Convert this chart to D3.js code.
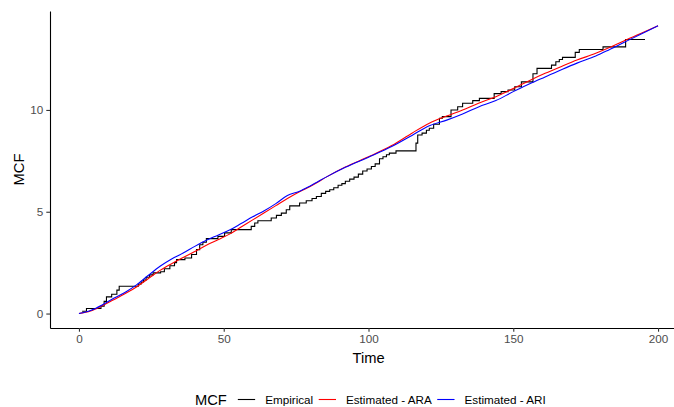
<!DOCTYPE html>
<html>
<head>
<meta charset="utf-8">
<script src="https://cdn.jsdelivr.net/npm/d3@7"></script>
<style>
  body { margin: 0; background: #fff; }
  svg { display: block; font-family: "Liberation Sans", Arial, sans-serif; }
</style>
</head>
<body>
<svg class="viz" width="674" height="407"></svg>
<script>
// Empirical MCF (step points: value holds from this time on)
var empTime = [1.1, 2.6, 7.6, 8.7, 9.5, 11.3, 13.1, 13.9, 20.5, 21.5, 22.3, 23.2, 24.4, 25.6,
  28.2, 29.5, 31.4, 33.0, 33.7, 36.6, 38.9, 40.6, 41.7, 42.8, 44.0, 48.0, 50.3, 52.6, 59.5,
  60.7, 61.8, 66.4, 68.2, 69.9, 71.6, 72.8, 76.2, 78.5, 80.5, 82.0, 83.7, 85.2, 86.6, 88.0,
  89.5, 90.8, 92.0, 93.5, 95.0, 96.5, 98.0, 99.5, 101.0, 102.3, 103.8, 105.0, 106.2, 107.2,
  109.5, 116.4, 117.0, 118.5, 120.0, 121.0, 122.5, 124.5, 125.5, 128.5, 130.8, 132.5, 136.0,
  138.3, 143.4, 145.8, 148.2, 150.5, 152.8, 156.8, 158.2, 163.2, 164.7, 165.9, 167.0, 171.4,
  172.8, 181.0, 188.8, 195.5];
var empMCF = [0.11, 0.25, 0.36, 0.6, 0.82, 0.95, 1.15, 1.34, 1.45, 1.55, 1.65, 1.78, 1.9, 2.0,
  2.05, 2.2, 2.35, 2.5, 2.65, 2.73, 2.9, 3.14, 3.38, 3.5, 3.68, 3.79, 3.96, 4.12, 4.28,
  4.45, 4.56, 4.69, 4.82, 4.93, 5.1, 5.29, 5.43, 5.54, 5.65, 5.75, 5.9, 6.0, 6.08, 6.18,
  6.3, 6.38, 6.5, 6.6, 6.7, 6.85, 7.0, 7.1, 7.22, 7.35, 7.6, 7.7, 7.8, 7.88,
  7.99, 8.37, 8.77, 8.86, 9.0, 9.1, 9.3, 9.59, 9.67, 10.0, 10.16, 10.33, 10.46,
  10.57, 10.8, 10.9, 10.98, 11.14, 11.38, 11.78, 12.04, 12.2, 12.37, 12.48, 12.58, 12.83,
  12.97, 13.1, 13.46, 13.46];

// Estimated MCF curves
var estTime = [0, 4, 8, 12, 16, 20, 24, 28, 32, 36, 40, 44, 48, 52, 56, 60, 64, 68, 72, 76, 80,
  86, 92, 100, 108, 115, 121, 127, 132.5, 138, 144, 150, 155.5, 161, 167, 172, 178.5, 183, 188, 194, 200];
var araMCF = [0, 0.12, 0.38, 0.68, 0.98, 1.32, 1.72, 2.12, 2.45, 2.75, 3.05, 3.35, 3.62, 3.9,
  4.25, 4.6, 4.95, 5.3, 5.65, 5.97, 6.25, 6.75, 7.2, 7.7, 8.25, 8.86, 9.35, 9.7, 10.0, 10.33,
  10.65, 11.05, 11.44, 11.8, 12.16, 12.45, 12.78, 13.05, 13.38, 13.75, 14.13];
var ariMCF = [0, 0.15, 0.42, 0.75, 1.05, 1.42, 1.88, 2.32, 2.68, 2.97, 3.3, 3.6, 3.85, 4.1,
  4.42, 4.75, 5.05, 5.4, 5.8, 6.0, 6.28, 6.75, 7.18, 7.68, 8.2, 8.75, 9.22, 9.5, 9.8, 10.15,
  10.46, 10.9, 11.27, 11.62, 12.0, 12.3, 12.65, 12.95, 13.3, 13.72, 14.13];

var xTicks = [0, 50, 100, 150, 200];
var yTicks = [0, 5, 10];
var seriesNames = ["Empirical", "Estimated - ARA", "Estimated - ARI"];
var seriesColors = ["#000000", "#ff0000", "#0000ff"];

var svg = d3.select(".viz"),
    margin = {top: 11, right: -13, bottom: 79, left: 50},
    width = 674 - margin.left - margin.right,
    height = 407 - margin.top - margin.bottom;

var xScale = d3.scaleLinear().domain([-10, 210]).range([0, width]);
var yScale = d3.scaleLinear().domain([-0.71, 14.86]).range([height, 0]);

var g = svg.append("g")
  .attr("transform", "translate(" + margin.left + "," + margin.top + ")");

// axes
var xAxis = g.append("g")
  .attr("transform", "translate(0," + height + ")")
  .call(d3.axisBottom(xScale).tickValues(xTicks).tickSize(3.7).tickSizeOuter(0).tickPadding(3));
var yAxis = g.append("g")
  .call(d3.axisLeft(yScale).tickValues(yTicks).tickSize(3.7).tickSizeOuter(0).tickPadding(3));

[xAxis, yAxis].forEach(function(ax) {
  ax.select(".domain").attr("stroke", "#000").attr("stroke-width", 1.1);
  ax.selectAll(".tick line").attr("stroke", "#333").attr("stroke-width", 1.1);
  ax.selectAll(".tick text").attr("fill", "#4d4d4d")
    .attr("font-size", "11.7px").attr("font-family", "Liberation Sans, Arial, sans-serif");
});

// lines
var empData = empTime.map(function(t, i) { return {t: t, v: empMCF[i]}; });
var araData = estTime.map(function(t, i) { return {t: t, v: araMCF[i]}; });
var ariData = estTime.map(function(t, i) { return {t: t, v: ariMCF[i]}; });

var stepLine = d3.line()
  .x(function(d) { return xScale(d.t); })
  .y(function(d) { return yScale(d.v); })
  .curve(d3.curveStepAfter);
var smoothLine = d3.line()
  .x(function(d) { return xScale(d.t); })
  .y(function(d) { return yScale(d.v); })
  .curve(d3.curveMonotoneX);

g.append("path").datum(empData)
  .attr("d", stepLine).attr("fill", "none")
  .attr("stroke", seriesColors[0]).attr("stroke-width", 1.1);
g.append("path").datum(araData)
  .attr("d", smoothLine).attr("fill", "none")
  .attr("stroke", seriesColors[1]).attr("stroke-width", 1.1);
g.append("path").datum(ariData)
  .attr("d", smoothLine).attr("fill", "none")
  .attr("stroke", seriesColors[2]).attr("stroke-width", 1.1);

// axis titles
svg.append("text")
  .text("Time")
  .attr("x", margin.left + width / 2)
  .attr("y", 363)
  .attr("text-anchor", "middle")
  .attr("font-size", "14.7px")
  .attr("fill", "#000");

svg.append("text")
  .text("MCF")
  .attr("transform", "translate(24," + (margin.top + height / 2) + ") rotate(-90)")
  .attr("text-anchor", "middle")
  .attr("font-size", "14.7px")
  .attr("fill", "#000");

// legend
var legend = svg.append("g");
var legY = 399.5;
var cursor = 0;
var title = legend.append("text")
  .text("MCF")
  .attr("x", 0).attr("y", legY + 5)
  .attr("font-size", "14.7px").attr("fill", "#000");
cursor = title.node().getComputedTextLength() + 11;

seriesNames.forEach(function(name, i) {
  legend.append("line")
    .attr("x1", cursor).attr("x2", cursor + 17.3)
    .attr("y1", legY).attr("y2", legY)
    .attr("stroke", seriesColors[i]).attr("stroke-width", 1.1);
  cursor += 17.3 + 10;
  var t = legend.append("text")
    .text(name)
    .attr("x", cursor).attr("y", legY + 4.2)
    .attr("font-size", "11.7px").attr("fill", "#000");
  cursor += t.node().getComputedTextLength() + 5.5;
});
cursor -= 5.5;
legend.attr("transform", "translate(" + Math.round(370 - cursor / 2) + ",0)");
</script>
</body>
</html>
